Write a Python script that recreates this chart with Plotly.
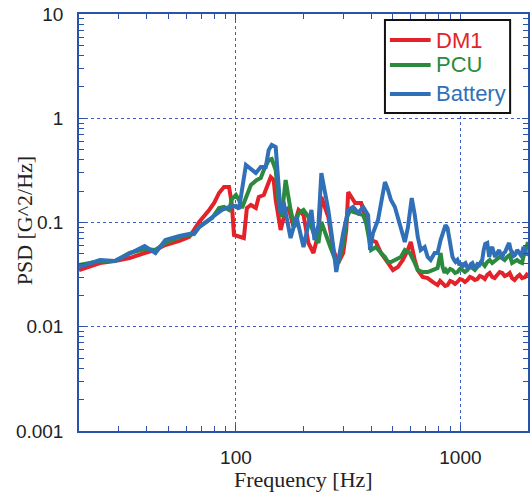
import plotly.graph_objects as go

# ---- data ----
dm1_freq = [20, 24.8, 28.9, 33.6, 39.2, 43.8, 48.5, 53.2, 56.0, 62.0, 68.6, 76.0, 80.0, 84.1, 88.5,
            93.2, 96.0, 98.0, 103.2, 108.5, 111.9, 116.6, 122.7, 126.4, 133.1, 137.2, 142.9, 147.3,
            150.4, 158.2, 166.5, 171.6, 180.6, 190.1, 200, 210.4, 221.5, 233.1, 240.2, 258.0, 271.6,
            285.8, 300.6, 310.0, 316.4, 339.8, 361.3, 380.1, 400, 420.8, 442.8, 475.6, 500.4, 526.6,
            554, 583, 601, 626, 645.6, 679, 714.6, 752, 791, 812, 833, 855, 876, 900, 922, 946, 970,
            995, 1021, 1047, 1074, 1102, 1130, 1160, 1189, 1220, 1251, 1284, 1317, 1350, 1386, 1420,
            1458, 1496, 1535, 1575, 1615, 1657, 1699, 1743, 1788, 1835, 1882, 1940, 2000]
dm1_psd = [0.0350, 0.0409, 0.0427, 0.0456, 0.0510, 0.0545, 0.0608, 0.0636, 0.0665, 0.0726, 0.1011,
           0.1318, 0.1539, 0.1919, 0.2191, 0.2191, 0.1472, 0.0759, 0.0726, 0.0710, 0.1378, 0.1472,
           0.1378, 0.1757, 0.1836, 0.2191, 0.2732, 0.2557, 0.1644, 0.0847, 0.1318, 0.1378, 0.0905,
           0.1318, 0.1180, 0.0636, 0.0510, 0.0793, 0.1757, 0.1129, 0.0545, 0.0409, 0.0510, 0.0847,
           0.1962, 0.1539, 0.1539, 0.1057, 0.0679, 0.0650, 0.0510, 0.0409, 0.0350, 0.0374, 0.0437,
           0.0545, 0.0650, 0.0437, 0.0350, 0.0300, 0.0293, 0.0269, 0.0251, 0.0275, 0.0263, 0.0246,
           0.0251, 0.0275, 0.0269, 0.0257, 0.0269, 0.0287, 0.0281, 0.0269, 0.0281, 0.0300, 0.0293,
           0.0281, 0.0287, 0.0307, 0.0300, 0.0287, 0.0314, 0.0328, 0.0300, 0.0293, 0.0314, 0.0335,
           0.0328, 0.0307, 0.0314, 0.0328, 0.0293, 0.0281, 0.0300, 0.0314, 0.0293, 0.0300, 0.0328]

pcu_freq = [20, 24.8, 28.9, 33.6, 39.2, 43.8, 48.5, 56.0, 65.2, 68.6, 78.3, 84.1, 88.5, 93.2, 96.0,
            100, 103.2, 106.4, 116.6, 123.9, 129.0, 133.1, 140.0, 144.4, 150.4, 155.0, 159.8, 166.5,
            175.2, 182.5, 190.1, 200, 210.4, 221.5, 233.1, 240.2, 263.4, 277.2, 285.8, 300.6, 313.2,
            322.9, 332.8, 350.4, 368.7, 380, 400, 420.8, 429.4, 442.8, 461.2, 475.6, 490.4, 510.6,
            526.6, 542.8, 565.4, 595, 626, 645.6, 679, 714.6, 752, 791, 816, 833, 850, 863, 876, 900,
            922, 946, 970, 995, 1021, 1047, 1074, 1102, 1130, 1160, 1189, 1220, 1251, 1284, 1317, 1350,
            1386, 1420, 1458, 1496, 1535, 1575, 1615, 1657, 1699, 1743, 1788, 1835, 1882, 1910, 1940,
            1970, 2000]
pcu_psd = [0.0391, 0.0427, 0.0427, 0.0510, 0.0557, 0.0545, 0.0636, 0.0726, 0.0776, 0.0905, 0.1104,
           0.1378, 0.1409, 0.1318, 0.1680, 0.1836, 0.1644, 0.1378, 0.2290, 0.2557, 0.2672, 0.3188,
           0.3977, 0.4065, 0.3188, 0.1539, 0.1129, 0.2557, 0.1318, 0.0905, 0.1233, 0.1318, 0.1129,
           0.0793, 0.0636, 0.1011, 0.0582, 0.0437, 0.0409, 0.0636, 0.1129, 0.1318, 0.1261, 0.1233,
           0.1180, 0.0989, 0.0545, 0.0582, 0.0545, 0.0510, 0.0467, 0.0418, 0.0418, 0.0437, 0.0456,
           0.0467, 0.0545, 0.0510, 0.0409, 0.0350, 0.0335, 0.0335, 0.0350, 0.0366, 0.0510, 0.0374,
           0.0328, 0.0350, 0.0335, 0.0358, 0.0350, 0.0328, 0.0335, 0.0358, 0.0350, 0.0335, 0.0350,
           0.0374, 0.0366, 0.0350, 0.0374, 0.0400, 0.0409, 0.0383, 0.0418, 0.0437, 0.0409, 0.0427,
           0.0437, 0.0467, 0.0456, 0.0437, 0.0467, 0.0488, 0.0409, 0.0427, 0.0437, 0.0418, 0.0409,
           0.0477, 0.0510, 0.0582, 0.0650]

battery_freq = [20, 24.8, 28.9, 33.6, 39.2, 43.8, 48.5, 56.0, 65.2, 68.6, 78.3, 86.7, 93.2, 100, 103.2,
                110.8, 122.7, 129.0, 135.8, 140.0, 144.4, 150.4, 158.2, 163.1, 175.2, 186.2, 200, 217,
                223.8, 233.1, 240.2, 258.0, 271.6, 279.9, 300.6, 316.4, 332.8, 350.4, 368.7, 388.0,
                395.8, 408, 429.4, 461.2, 475.6, 490.4, 510.6, 526.6, 542.8, 565.4, 583.0, 607, 626.2,
                645.6, 665.6, 693, 714.6, 737, 767.6, 791.4, 816, 858, 876, 903.6, 922, 937, 951, 970,
                990, 1005, 1021, 1037, 1053, 1075, 1096, 1113, 1130, 1148, 1165, 1190, 1214, 1232, 1251,
                1270, 1290, 1317, 1330, 1344, 1365, 1386, 1408, 1429, 1458, 1488, 1510, 1535, 1560,
                1582, 1615, 1648, 1675, 1699, 1725, 1752, 1790, 1825, 1855, 1882, 1910, 1940, 1970, 2000]
battery_psd = [0.0374, 0.0437, 0.0427, 0.0499, 0.0595, 0.0510, 0.0679, 0.0742, 0.0793, 0.0905, 0.1129,
               0.1318, 0.1409, 0.1440, 0.1348, 0.3560, 0.2984, 0.3405, 0.3405, 0.4960, 0.5540, 0.5300,
               0.1233, 0.1573, 0.0710, 0.1129, 0.0582, 0.1318, 0.0679, 0.0946, 0.2984, 0.1318, 0.0582,
               0.0335, 0.0793, 0.1318, 0.1409, 0.1233, 0.1409, 0.1180, 0.0545, 0.0793, 0.1057, 0.2446,
               0.2050, 0.1644, 0.1409, 0.1129, 0.0847, 0.0650, 0.0886, 0.1718, 0.1180, 0.0726, 0.0545,
               0.0582, 0.0467, 0.0437, 0.0510, 0.0510, 0.0679, 0.0946, 0.0886, 0.0582, 0.0467, 0.0437,
               0.0418, 0.0437, 0.0391, 0.0409, 0.0374, 0.0400, 0.0409, 0.0366, 0.0374, 0.0400, 0.0409,
               0.0374, 0.0374, 0.0400, 0.0391, 0.0418, 0.0437, 0.0545, 0.0622, 0.0636, 0.0510, 0.0467,
               0.0545, 0.0582, 0.0510, 0.0467, 0.0510, 0.0545, 0.0488, 0.0467, 0.0510, 0.0521, 0.0582,
               0.0636, 0.0545, 0.0521, 0.0477, 0.0488, 0.0545, 0.0521, 0.0488, 0.0510, 0.0582, 0.0545,
               0.0488, 0.0510]

series_names = ["DM1", "PCU", "Battery"]
series_colors = ["#e3222a", "#2b8a3e", "#3070b8"]

y_tickvals = [0.001, 0.01, 0.1, 1, 10]
y_ticktext = ["0.001", "0.01", "0.1", "1", "10"]
x_tickvals = [100, 1000]
x_ticktext = ["100", "1000"]

# ---- figure ----
fig = go.Figure()
for name, fx, fy, col in zip(series_names,
                             [dm1_freq, pcu_freq, battery_freq],
                             [dm1_psd, pcu_psd, battery_psd],
                             series_colors):
    fig.add_trace(go.Scatter(
        x=fx, y=fy, mode="lines", name=name,
        line=dict(color=col, width=4),
        showlegend=False,
    ))

axis_col = "#2a52a8"
grid_col = "#3a5fc0"
tick_font = dict(family="Liberation Sans, Arial, sans-serif", size=19, color="#222222")

fig.update_xaxes(
    type="log", range=[1.30103, 3.30103],
    tickvals=x_tickvals, ticktext=x_ticktext,
    showline=True, linecolor=axis_col, linewidth=1.5, mirror="ticks",
    ticks="inside", ticklen=6, tickcolor=axis_col, tickwidth=1,
    showgrid=True, gridcolor=grid_col, griddash="dot", gridwidth=1,
    minor=dict(ticks="inside", ticklen=5, tickcolor=axis_col, tickwidth=1,
               dtick="D1", showgrid=False),
    tickfont=tick_font, ticklabelstandoff=8, zeroline=False,
)
fig.update_yaxes(
    type="log", range=[-3, 1],
    tickvals=y_tickvals, ticktext=y_ticktext,
    showline=True, linecolor=axis_col, linewidth=1.5, mirror="ticks",
    ticks="inside", ticklen=6, tickcolor=axis_col, tickwidth=1,
    showgrid=True, gridcolor=grid_col, griddash="dot", gridwidth=1,
    minor=dict(ticks="inside", ticklen=5, tickcolor=axis_col, tickwidth=1,
               dtick="D1", showgrid=False),
    tickfont=tick_font, ticklabelstandoff=10, zeroline=False,
)

title_font = dict(family="Liberation Serif, Times New Roman, serif", size=22, color="#222222")
fig.add_annotation(text="Frequency [Hz]", xref="paper", yref="paper",
                   x=0.5, y=-0.1175, xanchor="center", yanchor="middle",
                   showarrow=False, font=title_font)
fig.add_annotation(text="PSD [G^2/Hz]", xref="paper", yref="paper",
                   x=-0.1195, y=0.506, xanchor="center", yanchor="middle",
                   textangle=-90, showarrow=False, font=title_font)

# ---- legend box (drawn to match the reference layout) ----
fig.add_shape(type="rect", xref="paper", yref="paper",
              x0=0.6814, x1=0.9602, y0=0.7626, y1=0.9856,
              line=dict(color="#111111", width=2), fillcolor="white", layer="above")
legend_rows_y = [0.9376, 0.8777, 0.8082]
for name, col, ly in zip(series_names, series_colors, legend_rows_y):
    fig.add_shape(type="line", xref="paper", yref="paper",
                  x0=0.6925, x1=0.7832, y0=ly, y1=ly,
                  line=dict(color=col, width=4), layer="above")
    fig.add_annotation(text=name, xref="paper", yref="paper",
                       x=0.7915, y=ly, xanchor="left", yanchor="middle",
                       showarrow=False,
                       font=dict(family="Liberation Sans, Arial, sans-serif", size=22, color=col))

fig.update_layout(
    width=531, height=494,
    margin=dict(l=79, r=1, t=14, b=63),
    paper_bgcolor="white", plot_bgcolor="white",
    showlegend=False,
)

fig.write_html("out.html")
